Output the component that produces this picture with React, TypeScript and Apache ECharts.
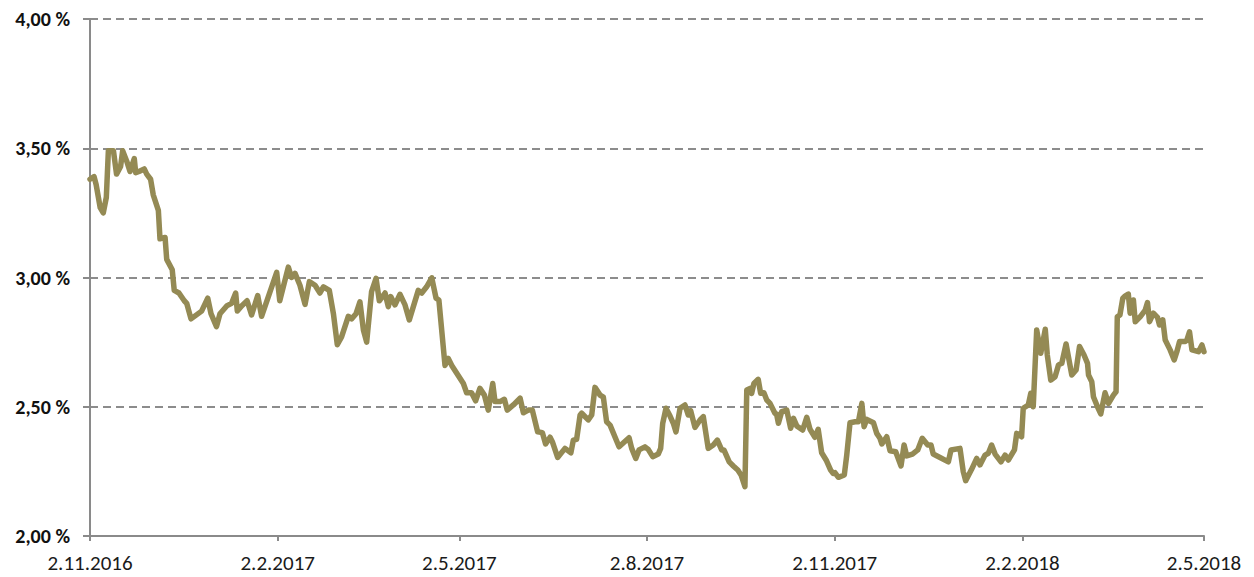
import React, { useEffect, useRef } from "react";
import * as echarts from "echarts";

// Start date of the series (2.11.2016) and day offsets of each read point
const startDateParts = [2016, 11, 2];
const tickDates = ["2016-11-02", "2017-02-02", "2017-05-02", "2017-08-02", "2017-11-02", "2018-02-02", "2018-05-02"];
const yTicks = [2.0, 2.5, 3.0, 3.5, 4.0];

const dayOffsets = [
  0, 2, 3, 5, 6.5, 8, 9, 11.5, 13, 15, 16, 18, 19.6, 21.7, 22.4, 24, 26.6, 27.8, 29.7, 31,
  33.5, 34.3, 36.8, 37.6, 40.3, 41.3, 43.6, 46.2, 47.4, 49.5, 54.7, 57.7, 59.3, 62, 63.7, 67,
  69.4, 71.4, 72.2, 74.3, 77, 79.2, 82.2, 84.1, 91.5, 93,
  97.2, 98.8, 100.5, 102.9, 105.4, 107.5, 110.3, 112.7, 114.4, 117.3, 119.3, 121.2, 123.3,
  126.6, 128.2, 130.4, 132.3, 134, 135.6, 138, 140.2, 141.8, 144.6, 146.2, 147.4, 149.5, 151.9,
  154.4, 156.5, 160.9, 162.6, 165, 167.5, 169.6, 171, 174, 175.6, 177.3, 183,
  184.6, 187, 189, 191.1, 193.3, 195.2, 197.4, 198.5, 201, 203.1, 204.5, 207.5, 210.8, 212.4,
  214.8, 216.8, 219.4, 221.7, 223.3, 225.5, 226.6, 229.2, 232.8, 235.7, 236.9, 238.5, 240.2,
  241, 244.2, 245.9, 247.5, 250, 251.6, 253.2, 254.9, 259.3, 264.2, 265.5, 267.5, 269.1,
  272, 273.6, 275.8, 278.5, 279.7, 280.7, 282.3, 284.3, 285.9, 287.2, 289.2, 291.6, 293.2,
  294.4, 296.5, 299, 300.6, 303, 305.5, 307.5, 309.6, 310.7, 313.3, 315.3, 317.5, 319.1, 321,
  321.9, 323.5, 324.3, 325.4, 327.5, 328.7, 330.3, 331.7, 333.3, 335.7, 336.5, 337.4, 339,
  341.5, 343.4, 344.8, 346.4, 349.3, 351.3, 352.9, 355.3, 356.9, 358.6, 361, 363, 364.3,
  365.1, 366.8, 369.7, 370.9, 372.5, 375, 376.6, 378.3, 379.4, 380.7, 384, 385.6, 387.2,
  388.1, 390.5, 392.1, 394.9, 397.5, 399, 400.3, 403.1, 405.7, 407.9, 410.6, 412.2, 413.3,
  416.6, 420.7, 422, 426.4, 428, 429.2, 432.1, 434.6, 436.2, 438.7, 440.3, 441.9, 443.6,
  446.5, 448.5, 450.1, 453.1,
  454.2, 456.6, 457.4, 459.9, 461.1, 462.3, 464, 466, 468.2, 469.2, 470.9, 473, 474.7, 476.3,
  478.4, 481.2, 483.3, 485, 487.2, 488.9, 489.4, 491, 491.8, 493.8, 495.4, 497.5, 499.2,
  501.6, 502.9, 503.5, 504.8, 506.2, 507.3, 508.9, 509.8, 511.4, 512.3, 514.7, 517.2, 518.3,
  519.3, 521.2, 523.2, 524.2, 525.8, 527, 529.4, 531.4, 532.7, 534, 536.8, 537.6, 538.9,
  540.1, 543.3, 545, 546,
];

const yieldValues = [
  3.38, 3.39, 3.36, 3.27, 3.25, 3.31, 3.49, 3.49, 3.40, 3.43, 3.49, 3.45, 3.41, 3.46, 3.405, 3.41, 3.42, 3.40, 3.38, 3.32,
  3.26, 3.15, 3.155, 3.07, 3.03, 2.95, 2.94, 2.91, 2.90, 2.84, 2.87, 2.92, 2.86, 2.81, 2.86, 2.89,
  2.90, 2.94, 2.87, 2.89, 2.91, 2.855, 2.93, 2.85, 3.02, 2.91,
  3.04, 3.0, 3.016, 2.97, 2.896, 2.984, 2.97, 2.94, 2.964, 2.95, 2.86, 2.74, 2.77,
  2.85, 2.84, 2.86, 2.906, 2.797, 2.75, 2.945, 2.997, 2.91, 2.94, 2.887, 2.926, 2.894, 2.935,
  2.894, 2.836, 2.95, 2.94, 2.964, 2.999, 2.92, 2.913, 2.66, 2.687, 2.66, 2.59,
  2.554, 2.554, 2.523, 2.571, 2.545, 2.487, 2.59, 2.52, 2.52, 2.529, 2.487, 2.507, 2.533, 2.477,
  2.487, 2.487, 2.403, 2.40, 2.356, 2.382, 2.365, 2.304, 2.339, 2.322, 2.371, 2.374, 2.468,
  2.475, 2.449, 2.468, 2.575, 2.545, 2.537, 2.442, 2.429, 2.345, 2.38, 2.339, 2.30, 2.333,
  2.345, 2.335, 2.307, 2.317, 2.339, 2.436, 2.494, 2.464, 2.436, 2.403, 2.494, 2.507, 2.468,
  2.485, 2.42, 2.449, 2.462, 2.339, 2.352, 2.371, 2.333, 2.333, 2.287, 2.271, 2.255, 2.236, 2.191,
  2.565, 2.571, 2.552, 2.59, 2.606, 2.552, 2.554, 2.526, 2.513, 2.475, 2.472, 2.436, 2.481,
  2.487, 2.417, 2.455, 2.426, 2.41, 2.459, 2.413, 2.382, 2.413, 2.322, 2.291, 2.255, 2.242,
  2.245, 2.227, 2.236, 2.313, 2.438, 2.442, 2.442, 2.513, 2.423, 2.451, 2.438, 2.397, 2.378,
  2.356, 2.384, 2.33, 2.326, 2.271, 2.352, 2.31, 2.317, 2.333, 2.378, 2.352, 2.352, 2.317,
  2.304, 2.287, 2.333, 2.339, 2.249, 2.214, 2.258, 2.30, 2.275, 2.313, 2.32, 2.352, 2.317,
  2.287, 2.313, 2.294, 2.333,
  2.397, 2.384, 2.494, 2.507, 2.552, 2.50, 2.797, 2.707, 2.80, 2.70, 2.603, 2.616, 2.662, 2.668,
  2.743, 2.623, 2.642, 2.733, 2.70, 2.668, 2.623, 2.597, 2.539, 2.50, 2.472, 2.554, 2.513,
  2.545, 2.558, 2.848, 2.855, 2.92, 2.928, 2.936, 2.862, 2.913, 2.829, 2.848, 2.874, 2.903,
  2.829, 2.862, 2.846, 2.816, 2.836, 2.758, 2.72, 2.681, 2.713, 2.752, 2.752, 2.758, 2.79,
  2.72, 2.713, 2.739, 2.713,
];

const DAY = 86400000;

function parseDate(s: string): number {
  const [y, m, d] = s.split("-").map(Number);
  return new Date(y, m - 1, d).getTime();
}

export default function App() {
  const ref = useRef<HTMLDivElement>(null);

  useEffect(() => {
    if (!ref.current) return;
    const chart = echarts.init(ref.current, undefined, { renderer: "svg" });
    const start = new Date(startDateParts[0], startDateParts[1] - 1, startDateParts[2]).getTime();
    const seriesData = dayOffsets.map((d, i) => [start + d * DAY, yieldValues[i]]);
    const ticks = tickDates.map(parseDate);
    const font = "Carlito, 'Open Sans', Lato, sans-serif";

    chart.setOption({
      animation: false,
      backgroundColor: "#ffffff",
      grid: { left: 90, right: 50, top: 19, bottom: 41, containLabel: false },
      xAxis: {
        type: "value",
        min: ticks[0],
        max: ticks[ticks.length - 1],
        axisLine: { show: true, lineStyle: { color: "#8a8a8a", width: 2 } },
        axisTick: {
          show: true,
          customValues: ticks,
          length: 5,
          lineStyle: { color: "#8a8a8a", width: 2 },
        },
        axisLabel: {
          customValues: ticks,
          margin: 16,
          fontFamily: font,
          fontSize: 21,
          color: "#1a1a1a",
          formatter: (v: number) => {
            const d = new Date(v);
            return `${d.getDate()}.${d.getMonth() + 1}.${d.getFullYear()}`;
          },
        },
        splitLine: { show: false },
      },
      yAxis: {
        type: "value",
        min: yTicks[0],
        max: yTicks[yTicks.length - 1],
        interval: 0.5,
        axisLine: { show: true, lineStyle: { color: "#8a8a8a", width: 2 } },
        axisTick: { show: true, length: 7, lineStyle: { color: "#8a8a8a", width: 2 } },
        axisLabel: {
          margin: 20,
          fontFamily: font,
          fontSize: 20,
          fontWeight: "bold",
          color: "#111111",
          formatter: (v: number) => v.toFixed(2).replace(".", ",") + " %",
        },
        splitLine: {
          show: true,
          lineStyle: { color: "#8c8c8c", width: 2, type: [8, 5] },
        },
      },
      series: [
        {
          type: "line",
          data: seriesData,
          showSymbol: false,
          symbol: "none",
          lineStyle: { color: "#948A54", width: 5.5, join: "round", cap: "round" },
          z: 3,
        },
      ],
    });

    return () => chart.dispose();
  }, []);

  return (
    <div
      ref={ref}
      style={{ position: "fixed", left: 0, top: 0, width: 1254, height: 577, background: "#fff" }}
    />
  );
}
